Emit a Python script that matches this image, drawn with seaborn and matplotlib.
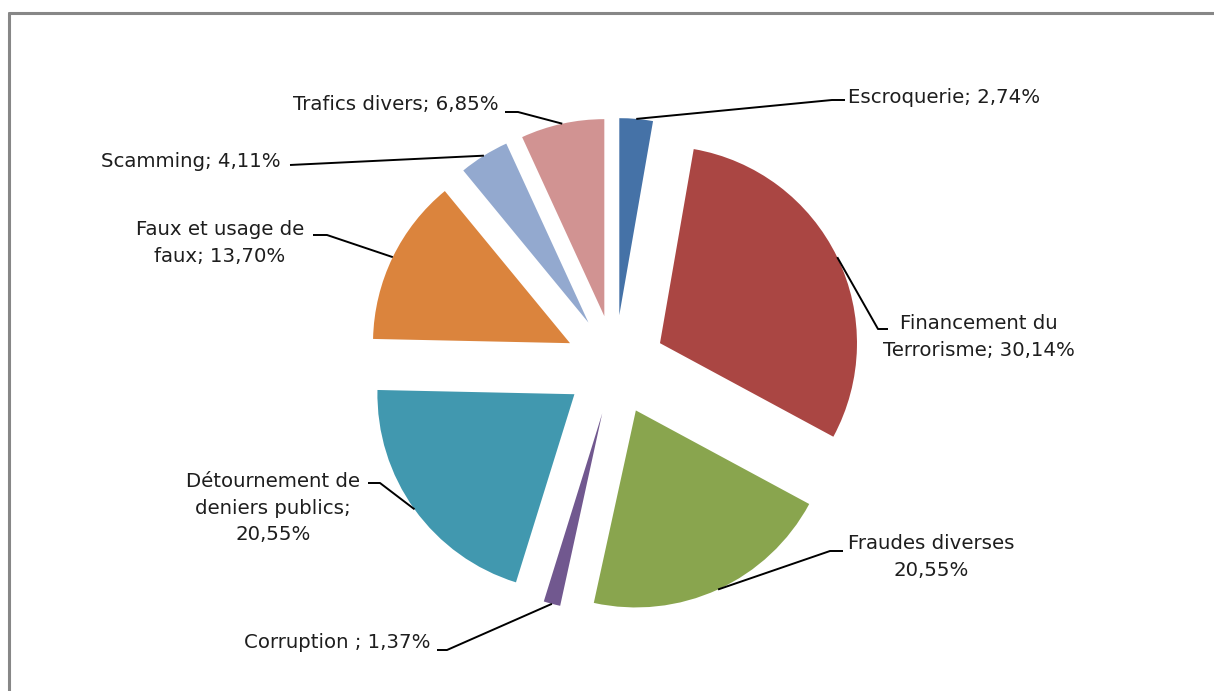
import numpy as np
import matplotlib
matplotlib.use("Agg")
import matplotlib.pyplot as plt
import seaborn as sns

# Répartition des infractions sous-jacentes (%)
categories = [
    "Escroquerie",
    "Financement du\nTerrorisme",
    "Fraudes diverses",
    "Corruption ",
    "Détournement de\ndeniers publics;",
    "Faux et usage de\nfaux",
    "Scamming",
    "Trafics divers",
]
values = [2.74, 30.14, 20.55, 1.37, 20.55, 13.70, 4.11, 6.85]
label_texts = [
    "Escroquerie; 2,74%",
    "Financement du\nTerrorisme; 30,14%",
    "Fraudes diverses\n20,55%",
    "Corruption ; 1,37%",
    "Détournement de\ndeniers publics;\n20,55%",
    "Faux et usage de\nfaux; 13,70%",
    "Scamming; 4,11%",
    "Trafics divers; 6,85%",
]
colors = sns.color_palette([
    "#4572A7", "#AA4643", "#89A54E", "#71588F",
    "#4198AF", "#DB843D", "#93A9CF", "#D19392",
])

sns.set_theme(style="white")
plt.rcParams["font.family"] = ["DejaVu Sans"]

W, H = 1214, 691
fig = plt.figure(figsize=(W / 100, H / 100), dpi=100)
ax = fig.add_axes([0, 0, 1, 1])

# pie geometry in pixel units (y pointing up)
cx, cy = 615, H - 365
radius = 197
gap = 50

ax.pie(values, colors=colors, startangle=90, counterclock=False,
       radius=radius, center=(cx, cy), explode=[gap] * len(values),
       frame=True, wedgeprops=dict(linewidth=0))

# label layout: (text x, text y, alignment, elbow, line end) in pixel coords (y down)
layout = [
    (848, 97, "left", (832, 100), (845, 100)),
    (979, 337, "center", (878, 329), (888, 329)),
    (931, 557, "center", (830, 551), (843, 551)),
    (431, 643, "right", (447, 650), (437, 650)),
    (273, 508, "center", (380, 483), (368, 483)),
    (220, 243, "center", (327, 235), (313, 235)),
    (281, 161, "right", (300, 164.5), (290, 165)),
    (499, 104, "right", (518, 112), (505, 112)),
]

cum = np.concatenate([[0], np.cumsum(values)]) / np.sum(values) * 360
for i, (tx, ty, ha, elbow, end) in enumerate(layout):
    mid = np.deg2rad(90 - (cum[i] + cum[i + 1]) / 2)
    sx = cx + (radius + gap) * np.cos(mid)
    sy = cy + (radius + gap) * np.sin(mid)
    ax.plot([sx, elbow[0], end[0]], [sy, H - elbow[1], H - end[1]],
            color="black", lw=1.4, solid_capstyle="butt", zorder=3)
    ax.text(tx, H - ty, label_texts[i], ha=ha, va="center",
            multialignment="center", fontsize=14.2, color="#1e1e1e",
            linespacing=1.5)

# chart frame
ax.plot([8.5, 8.5], [0, H - 12.5], color="#878787", lw=2.2, zorder=4)
ax.plot([8.5, W], [H - 12.5, H - 12.5], color="#878787", lw=2.2, zorder=4)

ax.set_xlim(0, W)
ax.set_ylim(0, H)
ax.set_aspect("equal")
ax.axis("off")

fig.savefig("out.png", dpi=100, facecolor="white")
